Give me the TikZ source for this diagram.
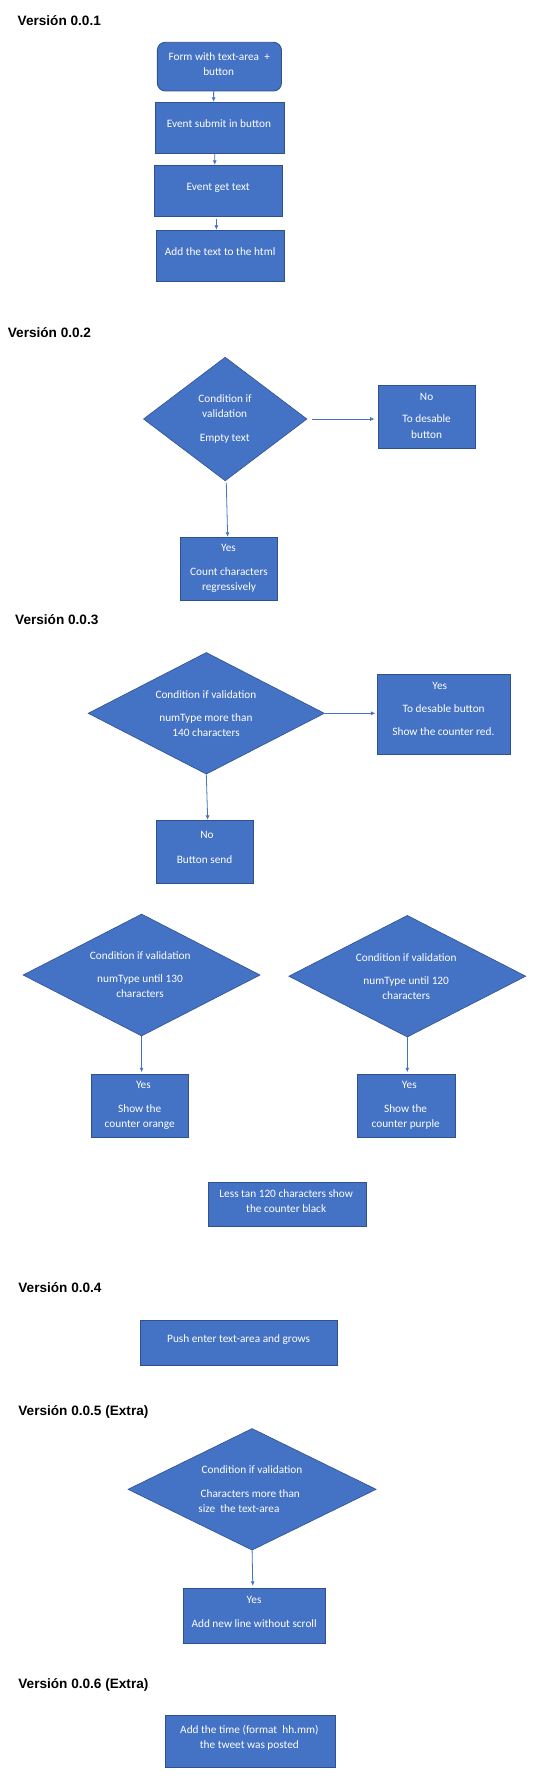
\documentclass[tikz,border=0pt]{standalone}
\usepackage{fontspec}
\setmainfont{Carlito}
\newfontfamily\arialfont{Liberation Sans}
\usetikzlibrary{shapes.geometric,arrows.meta}
\definecolor{boxblue}{HTML}{4472C4}
\definecolor{boxedge}{HTML}{2F528F}
\begin{document}
\begin{tikzpicture}[x=1pt,y=-1pt,
 box/.style={draw=boxedge,fill=boxblue,line width=0.9pt,inner sep=0pt,rectangle},
 rbox/.style={box,rounded corners=8pt},
 dia/.style={draw=boxedge,fill=boxblue,line width=0.6pt,inner sep=0pt,diamond,aspect=1},
 txt/.style={text=white,font=\fontsize{11.3}{13}\selectfont,inner sep=0pt,anchor=base},
 ttl/.style={font=\arialfont\bfseries\fontsize{13.6}{15}\selectfont,inner sep=0pt,anchor=base west},
 arr/.style={draw=boxblue,line width=0.8pt,-{Latex[length=4.5pt,width=4pt]}}]
\useasboundingbox[fill=white] (0,0) rectangle (548,1784);

% ---------- Version 0.0.1
\node[ttl] (t1) at (17.5,25.2) {Versión 0.0.1};
\node[rbox,minimum width=124.1pt,minimum height=48.7pt] (b1) at (219.4,66.65) {};
\node[box,minimum width=128.4pt,minimum height=51pt] (b2) at (219.8,127.8) {};
\node[box,minimum width=128pt,minimum height=51pt] (b3) at (218.5,190.8) {};
\node[box,minimum width=128.3pt,minimum height=51pt] (b4) at (220.4,255.8) {};
\node[txt] (b1t1) at (219.2,60.2) {Form with text-area\ \ +};
\node[txt] (b1t2) at (218.7,75.2) {button};
\node[txt] (b2t1) at (218.9,127.2) {Event submit in button};
\node[txt] (b3t1) at (218.2,190.2) {Event get text};
\node[txt] (b4t1) at (220.1,255.2) {Add the text to the html};
\draw[arr] ([xshift=-5.8pt]b1.south) -- ([xshift=-6.1pt]b2.north);
\draw[arr] ([xshift=-5pt]b2.south) -- ([xshift=-3.8pt]b3.north);
\draw[arr,shorten <=2.7pt] ([xshift=-2.1pt]b3.south) -- ([xshift=-4pt]b4.north);

% ---------- Version 0.0.2
\node[ttl] (t2) at (7.7,337.9) {Versión 0.0.2};
\node[dia,minimum width=163.6pt,minimum height=123.7pt] (d2) at (225.2,419) {};
\node[box,minimum width=97.2pt,minimum height=63pt] (no2) at (427.3,416.8) {};
\node[box,minimum width=97.6pt,minimum height=63.4pt] (yes2) at (228.9,569) {};
\node[txt] (d2t1) at (225,402.8) {Condition if};
\node[txt] (d2t2) at (224.7,417.8) {validation};
\node[txt] (d2t3) at (224.7,441.2) {Empty text};
\node[txt] (no2t1) at (426.6,400.2) {No};
\node[txt] (no2t2) at (426.6,422.8) {To desable};
\node[txt] (no2t3) at (426.6,438.2) {button};
\node[txt] (yes2t1) at (228.5,551.8) {Yes};
\node[txt] (yes2t2) at (228.9,575.2) {Count characters};
\node[txt] (yes2t3) at (229,590.2) {regressively};
\draw[arr,shorten <=5pt,shorten >=3.7pt] (d2.east) -- (d2.east -| no2.west);
\draw[arr,shorten <=1.5pt] ([xshift=1.05pt]d2.south) -- ([xshift=-1.26pt]yes2.north);

% ---------- Version 0.0.3
\node[ttl] (t3) at (15,624.5) {Versión 0.0.3};
\node[dia,minimum width=236.3pt,minimum height=121.7pt] (d3) at (206.3,713.3) {};
\node[box,minimum width=133.2pt,minimum height=80pt] (yes3) at (444.2,714.3) {};
\node[box,minimum width=97.9pt,minimum height=63pt] (no3) at (204.9,851.8) {};
\node[txt] (d3t1) at (205.9,698.2) {Condition if validation};
\node[txt] (d3t2) at (205.9,721.2) {numType more than};
\node[txt] (d3t3) at (206.1,736.2) {140 characters};
\node[txt] (yes3t1) at (439.7,689.2) {Yes};
\node[txt] (yes3t2) at (443.7,712.2) {To desable button};
\node[txt] (yes3t3) at (443.4,735.2) {Show the counter red.};
\node[txt] (no3t1) at (207,838.8) {No};
\node[txt] (no3t2) at (204.6,863.2) {Button send};
\draw[arr,shorten >=1.7pt] (d3.east) -- (d3.east -| yes3.west);
\draw[arr] (d3.south) -- ([xshift=2.8pt]no3.north);

\node[dia,minimum width=237.1pt,minimum height=122pt] (dl) at (141.6,975) {};
\node[box,minimum width=97.6pt,minimum height=63pt] (bl) at (140,1105.8) {};
\node[dia,minimum width=237.1pt,minimum height=121.7pt] (dr) at (407.3,976.2) {};
\node[box,minimum width=98pt,minimum height=63pt] (br) at (406,1105.8) {};
\node[txt] (dlt1) at (140.3,959.2) {Condition if validation};
\node[txt] (dlt2) at (140,982.2) {numType until 130};
\node[txt] (dlt3) at (140,997.2) {characters};
\node[txt] (blt1) at (143.4,1088.8) {Yes};
\node[txt] (blt2) at (139.7,1112.2) {Show the};
\node[txt] (blt3) at (139.7,1127.2) {counter orange};
\node[txt] (drt1) at (406.2,961.2) {Condition if validation};
\node[txt] (drt2) at (406.2,984.2) {numType until 120};
\node[txt] (drt3) at (406.2,999.2) {characters};
\node[txt] (brt1) at (409.3,1088.8) {Yes};
\node[txt] (brt2) at (405.6,1112.2) {Show the};
\node[txt] (brt3) at (405.7,1127.2) {counter purple};
\draw[arr,shorten >=1.6pt] (dl.south) -- (dl.south |- bl.north);
\draw[arr,shorten >=1.6pt] (dr.south) -- (dr.south |- br.north);

\node[box,minimum width=158.8pt,minimum height=44pt] (less) at (287.4,1204.3) {};
\node[txt] (lesst1) at (286.2,1197.2) {Less tan 120 characters show};
\node[txt] (lesst2) at (286.2,1212.2) {the counter black};

% ---------- Version 0.0.4
\node[ttl] (t4) at (18.2,1292.9) {Versión 0.0.4};
\node[box,minimum width=197.5pt,minimum height=45.3pt] (push) at (239,1342.65) {};
\node[txt] (pusht1) at (238.6,1342.2) {Push enter text-area and grows};

% ---------- Version 0.0.5
\node[ttl] (t5) at (18.2,1415.2) {Versión 0.0.5 (Extra)};
\node[dia,minimum width=248.3pt,minimum height=121.7pt] (d5) at (252.1,1489.3) {};
\node[box,minimum width=142.7pt,minimum height=55pt] (yes5) at (254.4,1615.8) {};
\node[txt] (d5t1) at (252,1473.8) {Condition if validation};
\node[txt] (d5t2) at (250.2,1497.2) {Characters more than};
\node[txt] (d5t3) at (239,1512.2) {size\ \ the text-area};
\node[txt] (yes5t1) at (254.1,1603.2) {Yes};
\node[txt] (yes5t2) at (254.1,1627.2) {Add new line without scroll};
\draw[arr,shorten >=2pt] (d5.south) -- ([xshift=-1.6pt]yes5.north);

% ---------- Version 0.0.6
\node[ttl] (t6) at (18.2,1688.2) {Versión 0.0.6 (Extra)\textcolor{black!60}{\mdseries\fontsize{6}{7}\selectfont .}};
\node[box,minimum width=169.9pt,minimum height=52pt] (time) at (250,1741.3) {};
\node[txt] (timet1) at (249.4,1733.2) {Add the time (format\ \ hh.mm)};
\node[txt] (timet2) at (249.4,1748.2) {the tweet was posted};
\end{tikzpicture}
\end{document}
